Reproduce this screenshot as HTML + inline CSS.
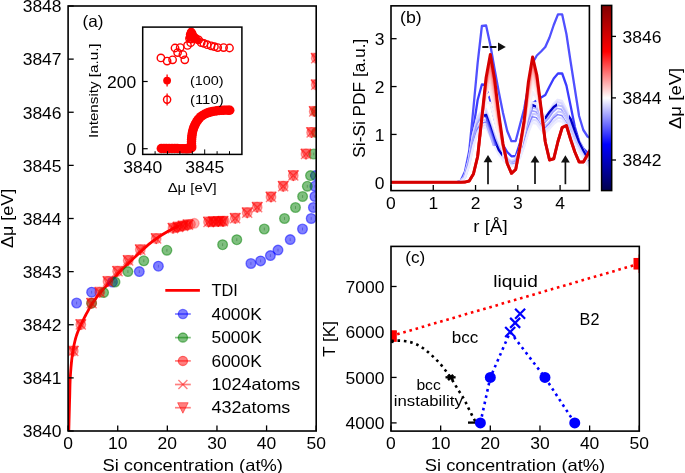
<!DOCTYPE html>
<html><head><meta charset="utf-8"><style>html,body{margin:0;padding:0;background:#fff;}svg{will-change:transform;}svg text{font-family:'Liberation Sans',sans-serif}</style></head><body>
<svg width="685" height="473" viewBox="0 0 685 473" style="display:block;font-family:'Liberation Sans',sans-serif">
<rect width="685" height="473" fill="#fff"/>
<defs><clipPath id="ca"><rect x="68.1" y="6" width="248.1" height="425"/></clipPath><clipPath id="cb"><rect x="391" y="5.85" width="198.4" height="184.75"/></clipPath><clipPath id="cvis"><rect x="484" y="0" width="18" height="200"/><rect x="532.5" y="0" width="3.5" height="200"/><rect x="545" y="0" width="12" height="200"/><rect x="569" y="0" width="22" height="200"/></clipPath><clipPath id="cflank"><path d="M486,100 L500,100 L500,146 L486,146 Z"/></clipPath><clipPath id="cc"><rect x="391" y="246.4" width="248.3" height="184.7"/></clipPath><linearGradient id="seis" x1="0" y1="1" x2="0" y2="0"><stop offset="0" stop-color="#00004d"/><stop offset="0.25" stop-color="#0000ff"/><stop offset="0.5" stop-color="#ffffff"/><stop offset="0.75" stop-color="#ff0000"/><stop offset="1" stop-color="#800000"/></linearGradient></defs>
<g clip-path="url(#ca)">
<polyline points="68.8,431 68.84,429.28 68.9,426.93 68.97,424.12 69.04,421.07 69.12,417.97 69.2,415 69.28,412.12 69.36,409.15 69.44,406.12 69.53,403.07 69.62,400.02 69.7,397 69.78,393.98 69.84,390.93 69.91,387.88 69.98,384.85 70.08,381.88 70.2,379 70.36,376.16 70.54,373.33 70.74,370.56 70.96,367.89 71.18,365.35 71.4,363 71.62,360.86 71.84,358.91 72.06,357.09 72.3,355.37 72.54,353.69 72.8,352 73.07,350.32 73.35,348.69 73.64,347.09 73.94,345.54 74.26,344.01 74.6,342.5 74.95,341.03 75.3,339.61 75.67,338.22 76.07,336.83 76.51,335.43 77,334 77.54,332.53 78.13,331.06 78.76,329.56 79.41,328.06 80.1,326.53 80.8,325 81.52,323.46 82.25,321.93 83.01,320.38 83.8,318.8 84.63,317.18 85.5,315.5 86.45,313.71 87.47,311.8 88.54,309.84 89.6,307.93 90.64,306.12 91.6,304.5 92.48,303.1 93.31,301.85 94.11,300.72 94.89,299.65 95.68,298.59 96.5,297.5 97.29,296.44 98.03,295.46 98.77,294.49 99.59,293.47 100.54,292.33 101.7,291 103.13,289.42 104.78,287.63 106.58,285.72 108.42,283.78 110.22,281.88 111.9,280.1 113.44,278.46 114.92,276.87 116.36,275.34 117.78,273.83 119.22,272.32 120.7,270.8 122.21,269.28 123.74,267.76 125.27,266.26 126.83,264.75 128.4,263.23 130,261.7 131.63,260.15 133.28,258.57 134.96,256.99 136.64,255.41 138.33,253.85 140,252.3 141.67,250.75 143.33,249.2 145,247.66 146.67,246.14 148.33,244.69 150,243.3 151.67,241.99 153.33,240.75 155,239.56 156.67,238.41 158.33,237.3 160,236.2 161.69,235.11 163.41,234.04 165.12,233.01 166.81,232.01 168.45,231.07 170,230.2 171.54,229.37 173.11,228.57 174.62,227.82 176,227.16 177.15,226.61 178,226.2" fill="none" stroke="#ff0000" stroke-width="2.8" stroke-linejoin="round" stroke-linecap="round"/>
<circle cx="76.6" cy="303" r="4.85" fill="#0000ff" fill-opacity="0.5" stroke="#0000ff" stroke-opacity="0.5" stroke-width="1.3"/>
<line x1="76.6" y1="301.6" x2="76.6" y2="304.4" stroke="#0000aa" stroke-opacity="0.35" stroke-width="0.9"/>
<circle cx="91.6" cy="292.2" r="4.85" fill="#0000ff" fill-opacity="0.5" stroke="#0000ff" stroke-opacity="0.5" stroke-width="1.3"/>
<line x1="91.6" y1="290.8" x2="91.6" y2="293.6" stroke="#0000aa" stroke-opacity="0.35" stroke-width="0.9"/>
<circle cx="112.5" cy="282" r="4.85" fill="#0000ff" fill-opacity="0.5" stroke="#0000ff" stroke-opacity="0.5" stroke-width="1.3"/>
<line x1="112.5" y1="280.6" x2="112.5" y2="283.4" stroke="#0000aa" stroke-opacity="0.35" stroke-width="0.9"/>
<circle cx="139.3" cy="271.6" r="4.85" fill="#0000ff" fill-opacity="0.5" stroke="#0000ff" stroke-opacity="0.5" stroke-width="1.3"/>
<line x1="139.3" y1="270.2" x2="139.3" y2="273" stroke="#0000aa" stroke-opacity="0.35" stroke-width="0.9"/>
<circle cx="158.4" cy="266.2" r="4.85" fill="#0000ff" fill-opacity="0.5" stroke="#0000ff" stroke-opacity="0.5" stroke-width="1.3"/>
<line x1="158.4" y1="264.8" x2="158.4" y2="267.6" stroke="#0000aa" stroke-opacity="0.35" stroke-width="0.9"/>
<circle cx="250.9" cy="263.5" r="4.85" fill="#0000ff" fill-opacity="0.5" stroke="#0000ff" stroke-opacity="0.5" stroke-width="1.3"/>
<line x1="250.9" y1="262.1" x2="250.9" y2="264.9" stroke="#0000aa" stroke-opacity="0.35" stroke-width="0.9"/>
<circle cx="260.6" cy="260.9" r="4.85" fill="#0000ff" fill-opacity="0.5" stroke="#0000ff" stroke-opacity="0.5" stroke-width="1.3"/>
<line x1="260.6" y1="259.5" x2="260.6" y2="262.3" stroke="#0000aa" stroke-opacity="0.35" stroke-width="0.9"/>
<circle cx="270.4" cy="255.6" r="4.85" fill="#0000ff" fill-opacity="0.5" stroke="#0000ff" stroke-opacity="0.5" stroke-width="1.3"/>
<line x1="270.4" y1="254.2" x2="270.4" y2="257" stroke="#0000aa" stroke-opacity="0.35" stroke-width="0.9"/>
<circle cx="278" cy="250.1" r="4.85" fill="#0000ff" fill-opacity="0.5" stroke="#0000ff" stroke-opacity="0.5" stroke-width="1.3"/>
<line x1="278" y1="248.7" x2="278" y2="251.5" stroke="#0000aa" stroke-opacity="0.35" stroke-width="0.9"/>
<circle cx="290.2" cy="239.6" r="4.85" fill="#0000ff" fill-opacity="0.5" stroke="#0000ff" stroke-opacity="0.5" stroke-width="1.3"/>
<line x1="290.2" y1="238.2" x2="290.2" y2="241" stroke="#0000aa" stroke-opacity="0.35" stroke-width="0.9"/>
<circle cx="302.5" cy="229" r="4.85" fill="#0000ff" fill-opacity="0.5" stroke="#0000ff" stroke-opacity="0.5" stroke-width="1.3"/>
<line x1="302.5" y1="227.6" x2="302.5" y2="230.4" stroke="#0000aa" stroke-opacity="0.35" stroke-width="0.9"/>
<circle cx="311.2" cy="218.5" r="4.85" fill="#0000ff" fill-opacity="0.5" stroke="#0000ff" stroke-opacity="0.5" stroke-width="1.3"/>
<line x1="311.2" y1="217.1" x2="311.2" y2="219.9" stroke="#0000aa" stroke-opacity="0.35" stroke-width="0.9"/>
<circle cx="313.4" cy="207.5" r="4.85" fill="#0000ff" fill-opacity="0.5" stroke="#0000ff" stroke-opacity="0.5" stroke-width="1.3"/>
<line x1="313.4" y1="206.1" x2="313.4" y2="208.9" stroke="#0000aa" stroke-opacity="0.35" stroke-width="0.9"/>
<circle cx="314.9" cy="196.5" r="4.85" fill="#0000ff" fill-opacity="0.5" stroke="#0000ff" stroke-opacity="0.5" stroke-width="1.3"/>
<line x1="314.9" y1="195.1" x2="314.9" y2="197.9" stroke="#0000aa" stroke-opacity="0.35" stroke-width="0.9"/>
<circle cx="314.9" cy="186.3" r="4.85" fill="#0000ff" fill-opacity="0.5" stroke="#0000ff" stroke-opacity="0.5" stroke-width="1.3"/>
<line x1="314.9" y1="184.9" x2="314.9" y2="187.7" stroke="#0000aa" stroke-opacity="0.35" stroke-width="0.9"/>
<circle cx="315.5" cy="175.6" r="4.85" fill="#0000ff" fill-opacity="0.5" stroke="#0000ff" stroke-opacity="0.5" stroke-width="1.3"/>
<line x1="315.5" y1="174.2" x2="315.5" y2="177" stroke="#0000aa" stroke-opacity="0.35" stroke-width="0.9"/>
<circle cx="91.6" cy="303.2" r="4.85" fill="#008000" fill-opacity="0.5" stroke="#008000" stroke-opacity="0.5" stroke-width="1.3"/>
<line x1="91.6" y1="301.8" x2="91.6" y2="304.6" stroke="#004000" stroke-opacity="0.35" stroke-width="0.9"/>
<circle cx="103.6" cy="292.6" r="4.85" fill="#008000" fill-opacity="0.5" stroke="#008000" stroke-opacity="0.5" stroke-width="1.3"/>
<line x1="103.6" y1="291.2" x2="103.6" y2="294" stroke="#004000" stroke-opacity="0.35" stroke-width="0.9"/>
<circle cx="115" cy="282" r="4.85" fill="#008000" fill-opacity="0.5" stroke="#008000" stroke-opacity="0.5" stroke-width="1.3"/>
<line x1="115" y1="280.6" x2="115" y2="283.4" stroke="#004000" stroke-opacity="0.35" stroke-width="0.9"/>
<circle cx="127.9" cy="271.6" r="4.85" fill="#008000" fill-opacity="0.5" stroke="#008000" stroke-opacity="0.5" stroke-width="1.3"/>
<line x1="127.9" y1="270.2" x2="127.9" y2="273" stroke="#004000" stroke-opacity="0.35" stroke-width="0.9"/>
<circle cx="143.8" cy="260.8" r="4.85" fill="#008000" fill-opacity="0.5" stroke="#008000" stroke-opacity="0.5" stroke-width="1.3"/>
<line x1="143.8" y1="259.4" x2="143.8" y2="262.2" stroke="#004000" stroke-opacity="0.35" stroke-width="0.9"/>
<circle cx="166.9" cy="250.3" r="4.85" fill="#008000" fill-opacity="0.5" stroke="#008000" stroke-opacity="0.5" stroke-width="1.3"/>
<line x1="166.9" y1="248.9" x2="166.9" y2="251.7" stroke="#004000" stroke-opacity="0.35" stroke-width="0.9"/>
<circle cx="222.6" cy="244.7" r="4.85" fill="#008000" fill-opacity="0.5" stroke="#008000" stroke-opacity="0.5" stroke-width="1.3"/>
<line x1="222.6" y1="243.3" x2="222.6" y2="246.1" stroke="#004000" stroke-opacity="0.35" stroke-width="0.9"/>
<circle cx="236.8" cy="239.7" r="4.85" fill="#008000" fill-opacity="0.5" stroke="#008000" stroke-opacity="0.5" stroke-width="1.3"/>
<line x1="236.8" y1="238.3" x2="236.8" y2="241.1" stroke="#004000" stroke-opacity="0.35" stroke-width="0.9"/>
<circle cx="264.3" cy="229" r="4.85" fill="#008000" fill-opacity="0.5" stroke="#008000" stroke-opacity="0.5" stroke-width="1.3"/>
<line x1="264.3" y1="227.6" x2="264.3" y2="230.4" stroke="#004000" stroke-opacity="0.35" stroke-width="0.9"/>
<circle cx="284.5" cy="218.5" r="4.85" fill="#008000" fill-opacity="0.5" stroke="#008000" stroke-opacity="0.5" stroke-width="1.3"/>
<line x1="284.5" y1="217.1" x2="284.5" y2="219.9" stroke="#004000" stroke-opacity="0.35" stroke-width="0.9"/>
<circle cx="295.5" cy="207.5" r="4.85" fill="#008000" fill-opacity="0.5" stroke="#008000" stroke-opacity="0.5" stroke-width="1.3"/>
<line x1="295.5" y1="206.1" x2="295.5" y2="208.9" stroke="#004000" stroke-opacity="0.35" stroke-width="0.9"/>
<circle cx="302.6" cy="196.5" r="4.85" fill="#008000" fill-opacity="0.5" stroke="#008000" stroke-opacity="0.5" stroke-width="1.3"/>
<line x1="302.6" y1="195.1" x2="302.6" y2="197.9" stroke="#004000" stroke-opacity="0.35" stroke-width="0.9"/>
<circle cx="307.3" cy="186.3" r="4.85" fill="#008000" fill-opacity="0.5" stroke="#008000" stroke-opacity="0.5" stroke-width="1.3"/>
<line x1="307.3" y1="184.9" x2="307.3" y2="187.7" stroke="#004000" stroke-opacity="0.35" stroke-width="0.9"/>
<circle cx="310.5" cy="175.6" r="4.85" fill="#008000" fill-opacity="0.5" stroke="#008000" stroke-opacity="0.5" stroke-width="1.3"/>
<line x1="310.5" y1="174.2" x2="310.5" y2="177" stroke="#004000" stroke-opacity="0.35" stroke-width="0.9"/>
<circle cx="313.7" cy="154" r="4.85" fill="#008000" fill-opacity="0.5" stroke="#008000" stroke-opacity="0.5" stroke-width="1.3"/>
<line x1="313.7" y1="152.6" x2="313.7" y2="155.4" stroke="#004000" stroke-opacity="0.35" stroke-width="0.9"/>
<circle cx="316.5" cy="132.5" r="4.85" fill="#008000" fill-opacity="0.5" stroke="#008000" stroke-opacity="0.5" stroke-width="1.3"/>
<line x1="316.5" y1="131.1" x2="316.5" y2="133.9" stroke="#004000" stroke-opacity="0.35" stroke-width="0.9"/>
<circle cx="316.5" cy="111.4" r="4.85" fill="#008000" fill-opacity="0.5" stroke="#008000" stroke-opacity="0.5" stroke-width="1.3"/>
<line x1="316.5" y1="110" x2="316.5" y2="112.8" stroke="#004000" stroke-opacity="0.35" stroke-width="0.9"/>
<path d="M68.05,346.11 L78.55,346.11 L73.3,356.61 Z" fill="#ff0000" fill-opacity="0.4" stroke="#ff0000" stroke-opacity="0.4" stroke-width="1"/>
<circle cx="73.3" cy="351.1" r="4.8" fill="#ff0000" fill-opacity="0.35" stroke="#ff0000" stroke-opacity="0.35" stroke-width="1.3"/>
<path d="M68.3,346.1 L78.3,356.1 M68.3,356.1 L78.3,346.1" stroke="#ff0000" stroke-opacity="0.5" stroke-width="1.4"/>
<path d="M75.55,319.61 L86.05,319.61 L80.8,330.11 Z" fill="#ff0000" fill-opacity="0.4" stroke="#ff0000" stroke-opacity="0.4" stroke-width="1"/>
<circle cx="80.8" cy="324.6" r="4.8" fill="#ff0000" fill-opacity="0.35" stroke="#ff0000" stroke-opacity="0.35" stroke-width="1.3"/>
<path d="M75.8,319.6 L85.8,329.6 M75.8,329.6 L85.8,319.6" stroke="#ff0000" stroke-opacity="0.5" stroke-width="1.4"/>
<path d="M86.35,298.21 L96.85,298.21 L91.6,308.71 Z" fill="#ff0000" fill-opacity="0.4" stroke="#ff0000" stroke-opacity="0.4" stroke-width="1"/>
<circle cx="91.6" cy="303.2" r="4.8" fill="#ff0000" fill-opacity="0.35" stroke="#ff0000" stroke-opacity="0.35" stroke-width="1.3"/>
<path d="M86.6,298.2 L96.6,308.2 M86.6,308.2 L96.6,298.2" stroke="#ff0000" stroke-opacity="0.5" stroke-width="1.4"/>
<path d="M94.55,287.21 L105.05,287.21 L99.8,297.71 Z" fill="#ff0000" fill-opacity="0.4" stroke="#ff0000" stroke-opacity="0.4" stroke-width="1"/>
<circle cx="99.8" cy="292.2" r="4.8" fill="#ff0000" fill-opacity="0.35" stroke="#ff0000" stroke-opacity="0.35" stroke-width="1.3"/>
<path d="M94.8,287.2 L104.8,297.2 M94.8,297.2 L104.8,287.2" stroke="#ff0000" stroke-opacity="0.5" stroke-width="1.4"/>
<path d="M102.75,276.41 L113.25,276.41 L108,286.91 Z" fill="#ff0000" fill-opacity="0.4" stroke="#ff0000" stroke-opacity="0.4" stroke-width="1"/>
<circle cx="108" cy="281.4" r="4.8" fill="#ff0000" fill-opacity="0.35" stroke="#ff0000" stroke-opacity="0.35" stroke-width="1.3"/>
<path d="M103,276.4 L113,286.4 M103,286.4 L113,276.4" stroke="#ff0000" stroke-opacity="0.5" stroke-width="1.4"/>
<path d="M112.35,266.31 L122.85,266.31 L117.6,276.81 Z" fill="#ff0000" fill-opacity="0.4" stroke="#ff0000" stroke-opacity="0.4" stroke-width="1"/>
<circle cx="117.6" cy="271.3" r="4.8" fill="#ff0000" fill-opacity="0.35" stroke="#ff0000" stroke-opacity="0.35" stroke-width="1.3"/>
<path d="M112.6,266.3 L122.6,276.3 M112.6,276.3 L122.6,266.3" stroke="#ff0000" stroke-opacity="0.5" stroke-width="1.4"/>
<path d="M122.95,255.41 L133.45,255.41 L128.2,265.91 Z" fill="#ff0000" fill-opacity="0.4" stroke="#ff0000" stroke-opacity="0.4" stroke-width="1"/>
<circle cx="128.2" cy="260.4" r="4.8" fill="#ff0000" fill-opacity="0.35" stroke="#ff0000" stroke-opacity="0.35" stroke-width="1.3"/>
<path d="M123.2,255.4 L133.2,265.4 M123.2,265.4 L133.2,255.4" stroke="#ff0000" stroke-opacity="0.5" stroke-width="1.4"/>
<path d="M135.05,244.71 L145.55,244.71 L140.3,255.21 Z" fill="#ff0000" fill-opacity="0.4" stroke="#ff0000" stroke-opacity="0.4" stroke-width="1"/>
<circle cx="140.3" cy="249.7" r="4.8" fill="#ff0000" fill-opacity="0.35" stroke="#ff0000" stroke-opacity="0.35" stroke-width="1.3"/>
<path d="M135.3,244.7 L145.3,254.7 M135.3,254.7 L145.3,244.7" stroke="#ff0000" stroke-opacity="0.5" stroke-width="1.4"/>
<path d="M150.95,233.61 L161.45,233.61 L156.2,244.11 Z" fill="#ff0000" fill-opacity="0.4" stroke="#ff0000" stroke-opacity="0.4" stroke-width="1"/>
<circle cx="156.2" cy="238.6" r="4.8" fill="#ff0000" fill-opacity="0.35" stroke="#ff0000" stroke-opacity="0.35" stroke-width="1.3"/>
<path d="M151.2,233.6 L161.2,243.6 M151.2,243.6 L161.2,233.6" stroke="#ff0000" stroke-opacity="0.5" stroke-width="1.4"/>
<path d="M167.75,223.21 L178.25,223.21 L173,233.71 Z" fill="#ff0000" fill-opacity="0.4" stroke="#ff0000" stroke-opacity="0.4" stroke-width="1"/>
<circle cx="173" cy="228.2" r="4.8" fill="#ff0000" fill-opacity="0.35" stroke="#ff0000" stroke-opacity="0.35" stroke-width="1.3"/>
<path d="M168,223.2 L178,233.2 M168,233.2 L178,223.2" stroke="#ff0000" stroke-opacity="0.5" stroke-width="1.4"/>
<path d="M172.75,222.01 L183.25,222.01 L178,232.51 Z" fill="#ff0000" fill-opacity="0.4" stroke="#ff0000" stroke-opacity="0.4" stroke-width="1"/>
<circle cx="178" cy="227" r="4.8" fill="#ff0000" fill-opacity="0.35" stroke="#ff0000" stroke-opacity="0.35" stroke-width="1.3"/>
<path d="M173,222 L183,232 M173,232 L183,222" stroke="#ff0000" stroke-opacity="0.5" stroke-width="1.4"/>
<path d="M177.75,220.91 L188.25,220.91 L183,231.41 Z" fill="#ff0000" fill-opacity="0.4" stroke="#ff0000" stroke-opacity="0.4" stroke-width="1"/>
<circle cx="183" cy="225.9" r="4.8" fill="#ff0000" fill-opacity="0.35" stroke="#ff0000" stroke-opacity="0.35" stroke-width="1.3"/>
<path d="M178,220.9 L188,230.9 M178,230.9 L188,220.9" stroke="#ff0000" stroke-opacity="0.5" stroke-width="1.4"/>
<path d="M182.75,219.81 L193.25,219.81 L188,230.31 Z" fill="#ff0000" fill-opacity="0.4" stroke="#ff0000" stroke-opacity="0.4" stroke-width="1"/>
<circle cx="188" cy="224.8" r="4.8" fill="#ff0000" fill-opacity="0.35" stroke="#ff0000" stroke-opacity="0.35" stroke-width="1.3"/>
<path d="M183,219.8 L193,229.8 M183,229.8 L193,219.8" stroke="#ff0000" stroke-opacity="0.5" stroke-width="1.4"/>
<path d="M203.25,216.91 L213.75,216.91 L208.5,227.41 Z" fill="#ff0000" fill-opacity="0.4" stroke="#ff0000" stroke-opacity="0.4" stroke-width="1"/>
<circle cx="208.5" cy="221.9" r="4.8" fill="#ff0000" fill-opacity="0.35" stroke="#ff0000" stroke-opacity="0.35" stroke-width="1.3"/>
<path d="M203.5,216.9 L213.5,226.9 M203.5,226.9 L213.5,216.9" stroke="#ff0000" stroke-opacity="0.5" stroke-width="1.4"/>
<path d="M208.25,216.71 L218.75,216.71 L213.5,227.21 Z" fill="#ff0000" fill-opacity="0.4" stroke="#ff0000" stroke-opacity="0.4" stroke-width="1"/>
<circle cx="213.5" cy="221.7" r="4.8" fill="#ff0000" fill-opacity="0.35" stroke="#ff0000" stroke-opacity="0.35" stroke-width="1.3"/>
<path d="M208.5,216.7 L218.5,226.7 M208.5,226.7 L218.5,216.7" stroke="#ff0000" stroke-opacity="0.5" stroke-width="1.4"/>
<path d="M213.25,216.51 L223.75,216.51 L218.5,227.01 Z" fill="#ff0000" fill-opacity="0.4" stroke="#ff0000" stroke-opacity="0.4" stroke-width="1"/>
<circle cx="218.5" cy="221.5" r="4.8" fill="#ff0000" fill-opacity="0.35" stroke="#ff0000" stroke-opacity="0.35" stroke-width="1.3"/>
<path d="M213.5,216.5 L223.5,226.5 M213.5,226.5 L223.5,216.5" stroke="#ff0000" stroke-opacity="0.5" stroke-width="1.4"/>
<path d="M217.75,216.31 L228.25,216.31 L223,226.81 Z" fill="#ff0000" fill-opacity="0.4" stroke="#ff0000" stroke-opacity="0.4" stroke-width="1"/>
<circle cx="223" cy="221.3" r="4.8" fill="#ff0000" fill-opacity="0.35" stroke="#ff0000" stroke-opacity="0.35" stroke-width="1.3"/>
<path d="M218,216.3 L228,226.3 M218,226.3 L228,216.3" stroke="#ff0000" stroke-opacity="0.5" stroke-width="1.4"/>
<path d="M229.95,213.31 L240.45,213.31 L235.2,223.81 Z" fill="#ff0000" fill-opacity="0.4" stroke="#ff0000" stroke-opacity="0.4" stroke-width="1"/>
<circle cx="235.2" cy="218.3" r="4.8" fill="#ff0000" fill-opacity="0.35" stroke="#ff0000" stroke-opacity="0.35" stroke-width="1.3"/>
<path d="M230.2,213.3 L240.2,223.3 M230.2,223.3 L240.2,213.3" stroke="#ff0000" stroke-opacity="0.5" stroke-width="1.4"/>
<path d="M241.95,207.71 L252.45,207.71 L247.2,218.21 Z" fill="#ff0000" fill-opacity="0.4" stroke="#ff0000" stroke-opacity="0.4" stroke-width="1"/>
<circle cx="247.2" cy="212.7" r="4.8" fill="#ff0000" fill-opacity="0.35" stroke="#ff0000" stroke-opacity="0.35" stroke-width="1.3"/>
<path d="M242.2,207.7 L252.2,217.7 M242.2,217.7 L252.2,207.7" stroke="#ff0000" stroke-opacity="0.5" stroke-width="1.4"/>
<path d="M251.95,202.21 L262.45,202.21 L257.2,212.71 Z" fill="#ff0000" fill-opacity="0.4" stroke="#ff0000" stroke-opacity="0.4" stroke-width="1"/>
<circle cx="257.2" cy="207.2" r="4.8" fill="#ff0000" fill-opacity="0.35" stroke="#ff0000" stroke-opacity="0.35" stroke-width="1.3"/>
<path d="M252.2,202.2 L262.2,212.2 M252.2,212.2 L262.2,202.2" stroke="#ff0000" stroke-opacity="0.5" stroke-width="1.4"/>
<path d="M265.75,191.91 L276.25,191.91 L271,202.41 Z" fill="#ff0000" fill-opacity="0.4" stroke="#ff0000" stroke-opacity="0.4" stroke-width="1"/>
<circle cx="271" cy="196.9" r="4.8" fill="#ff0000" fill-opacity="0.35" stroke="#ff0000" stroke-opacity="0.35" stroke-width="1.3"/>
<path d="M266,191.9 L276,201.9 M266,201.9 L276,191.9" stroke="#ff0000" stroke-opacity="0.5" stroke-width="1.4"/>
<path d="M277.95,181.31 L288.45,181.31 L283.2,191.81 Z" fill="#ff0000" fill-opacity="0.4" stroke="#ff0000" stroke-opacity="0.4" stroke-width="1"/>
<circle cx="283.2" cy="186.3" r="4.8" fill="#ff0000" fill-opacity="0.35" stroke="#ff0000" stroke-opacity="0.35" stroke-width="1.3"/>
<path d="M278.2,181.3 L288.2,191.3 M278.2,191.3 L288.2,181.3" stroke="#ff0000" stroke-opacity="0.5" stroke-width="1.4"/>
<path d="M288.05,170.61 L298.55,170.61 L293.3,181.11 Z" fill="#ff0000" fill-opacity="0.4" stroke="#ff0000" stroke-opacity="0.4" stroke-width="1"/>
<circle cx="293.3" cy="175.6" r="4.8" fill="#ff0000" fill-opacity="0.35" stroke="#ff0000" stroke-opacity="0.35" stroke-width="1.3"/>
<path d="M288.3,170.6 L298.3,180.6 M288.3,180.6 L298.3,170.6" stroke="#ff0000" stroke-opacity="0.5" stroke-width="1.4"/>
<path d="M300.75,149.01 L311.25,149.01 L306,159.51 Z" fill="#ff0000" fill-opacity="0.4" stroke="#ff0000" stroke-opacity="0.4" stroke-width="1"/>
<circle cx="306" cy="154" r="4.8" fill="#ff0000" fill-opacity="0.35" stroke="#ff0000" stroke-opacity="0.35" stroke-width="1.3"/>
<path d="M301,149 L311,159 M301,159 L311,149" stroke="#ff0000" stroke-opacity="0.5" stroke-width="1.4"/>
<path d="M306.35,127.51 L316.85,127.51 L311.6,138.01 Z" fill="#ff0000" fill-opacity="0.4" stroke="#ff0000" stroke-opacity="0.4" stroke-width="1"/>
<circle cx="311.6" cy="132.5" r="4.8" fill="#ff0000" fill-opacity="0.35" stroke="#ff0000" stroke-opacity="0.35" stroke-width="1.3"/>
<path d="M306.6,127.5 L316.6,137.5 M306.6,137.5 L316.6,127.5" stroke="#ff0000" stroke-opacity="0.5" stroke-width="1.4"/>
<path d="M308.95,106.41 L319.45,106.41 L314.2,116.91 Z" fill="#ff0000" fill-opacity="0.4" stroke="#ff0000" stroke-opacity="0.4" stroke-width="1"/>
<circle cx="314.2" cy="111.4" r="4.8" fill="#ff0000" fill-opacity="0.35" stroke="#ff0000" stroke-opacity="0.35" stroke-width="1.3"/>
<path d="M309.2,106.4 L319.2,116.4 M309.2,116.4 L319.2,106.4" stroke="#ff0000" stroke-opacity="0.5" stroke-width="1.4"/>
<path d="M310.95,79.81 L321.45,79.81 L316.2,90.31 Z" fill="#ff0000" fill-opacity="0.4" stroke="#ff0000" stroke-opacity="0.4" stroke-width="1"/>
<circle cx="316.2" cy="84.8" r="4.8" fill="#ff0000" fill-opacity="0.35" stroke="#ff0000" stroke-opacity="0.35" stroke-width="1.3"/>
<path d="M311.2,79.8 L321.2,89.8 M311.2,89.8 L321.2,79.8" stroke="#ff0000" stroke-opacity="0.5" stroke-width="1.4"/>
<path d="M310.95,53.21 L321.45,53.21 L316.2,63.71 Z" fill="#ff0000" fill-opacity="0.4" stroke="#ff0000" stroke-opacity="0.4" stroke-width="1"/>
<circle cx="316.2" cy="58.2" r="4.8" fill="#ff0000" fill-opacity="0.35" stroke="#ff0000" stroke-opacity="0.35" stroke-width="1.3"/>
<path d="M311.2,53.2 L321.2,63.2 M311.2,63.2 L321.2,53.2" stroke="#ff0000" stroke-opacity="0.5" stroke-width="1.4"/>
<circle cx="176" cy="227.5" r="4.8" fill="#ff0000" fill-opacity="0.3" stroke="#ff0000" stroke-opacity="0.3" stroke-width="1.3"/>
<circle cx="181" cy="226.4" r="4.8" fill="#ff0000" fill-opacity="0.3" stroke="#ff0000" stroke-opacity="0.3" stroke-width="1.3"/>
<circle cx="186" cy="225.2" r="4.8" fill="#ff0000" fill-opacity="0.3" stroke="#ff0000" stroke-opacity="0.3" stroke-width="1.3"/>
<circle cx="190.5" cy="224.2" r="4.8" fill="#ff0000" fill-opacity="0.3" stroke="#ff0000" stroke-opacity="0.3" stroke-width="1.3"/>
<circle cx="194.3" cy="223.3" r="4.8" fill="#ff0000" fill-opacity="0.3" stroke="#ff0000" stroke-opacity="0.3" stroke-width="1.3"/>
<circle cx="211" cy="221.8" r="4.8" fill="#ff0000" fill-opacity="0.3" stroke="#ff0000" stroke-opacity="0.3" stroke-width="1.3"/>
<circle cx="216" cy="221.6" r="4.8" fill="#ff0000" fill-opacity="0.3" stroke="#ff0000" stroke-opacity="0.3" stroke-width="1.3"/>
<circle cx="221" cy="221.4" r="4.8" fill="#ff0000" fill-opacity="0.3" stroke="#ff0000" stroke-opacity="0.3" stroke-width="1.3"/>
<circle cx="224.5" cy="221.2" r="4.8" fill="#ff0000" fill-opacity="0.3" stroke="#ff0000" stroke-opacity="0.3" stroke-width="1.3"/>
</g>
<line x1="68.1" y1="431" x2="68.1" y2="425.4" stroke="#000" stroke-width="1.3"/>
<line x1="117.72" y1="431" x2="117.72" y2="425.4" stroke="#000" stroke-width="1.3"/>
<line x1="167.34" y1="431" x2="167.34" y2="425.4" stroke="#000" stroke-width="1.3"/>
<line x1="216.96" y1="431" x2="216.96" y2="425.4" stroke="#000" stroke-width="1.3"/>
<line x1="266.58" y1="431" x2="266.58" y2="425.4" stroke="#000" stroke-width="1.3"/>
<line x1="316.2" y1="431" x2="316.2" y2="425.4" stroke="#000" stroke-width="1.3"/>
<line x1="68.1" y1="431" x2="73.7" y2="431" stroke="#000" stroke-width="1.3"/>
<line x1="68.1" y1="377.88" x2="73.7" y2="377.88" stroke="#000" stroke-width="1.3"/>
<line x1="68.1" y1="324.75" x2="73.7" y2="324.75" stroke="#000" stroke-width="1.3"/>
<line x1="68.1" y1="271.62" x2="73.7" y2="271.62" stroke="#000" stroke-width="1.3"/>
<line x1="68.1" y1="218.5" x2="73.7" y2="218.5" stroke="#000" stroke-width="1.3"/>
<line x1="68.1" y1="165.38" x2="73.7" y2="165.38" stroke="#000" stroke-width="1.3"/>
<line x1="68.1" y1="112.25" x2="73.7" y2="112.25" stroke="#000" stroke-width="1.3"/>
<line x1="68.1" y1="59.12" x2="73.7" y2="59.12" stroke="#000" stroke-width="1.3"/>
<line x1="68.1" y1="6" x2="73.7" y2="6" stroke="#000" stroke-width="1.3"/>
<line x1="165.3" y1="290.4" x2="199.9" y2="290.4" stroke="#ff0000" stroke-width="2.8"/>
<line x1="175" y1="314" x2="190.8" y2="314" stroke="#0000ff" stroke-opacity="0.5" stroke-width="1.7"/>
<circle cx="182.9" cy="314" r="4.6" fill="#0000ff" fill-opacity="0.5" stroke="#0000ff" stroke-opacity="0.5" stroke-width="1.3"/>
<line x1="175" y1="337.6" x2="190.8" y2="337.6" stroke="#008000" stroke-opacity="0.5" stroke-width="1.7"/>
<circle cx="182.9" cy="337.6" r="4.6" fill="#008000" fill-opacity="0.5" stroke="#008000" stroke-opacity="0.5" stroke-width="1.3"/>
<line x1="175" y1="360.9" x2="190.8" y2="360.9" stroke="#ff0000" stroke-opacity="0.5" stroke-width="1.7"/>
<circle cx="182.9" cy="360.9" r="4.6" fill="#ff0000" fill-opacity="0.5" stroke="#ff0000" stroke-opacity="0.5" stroke-width="1.3"/>
<line x1="175" y1="384.5" x2="190.8" y2="384.5" stroke="#ff0000" stroke-opacity="0.5" stroke-width="1.7"/>
<path d="M178.4,380 L187.4,389 M178.4,389 L187.4,380" stroke="#ff0000" stroke-opacity="0.5" stroke-width="1.4"/>
<line x1="175" y1="407.7" x2="190.8" y2="407.7" stroke="#ff0000" stroke-opacity="0.5" stroke-width="1.7"/>
<path d="M177.65,402.71 L188.15,402.71 L182.9,413.21 Z" fill="#ff0000" fill-opacity="0.5" stroke="#ff0000" stroke-opacity="0.5" stroke-width="1"/>
<text x="211.5" y="296.1" font-size="16.5" text-anchor="start" fill="#000" textLength="26.31" lengthAdjust="spacingAndGlyphs">TDI</text>
<text x="211.5" y="319.7" font-size="16.5" text-anchor="start" fill="#000" textLength="50.25" lengthAdjust="spacingAndGlyphs">4000K</text>
<text x="211.5" y="343.3" font-size="16.5" text-anchor="start" fill="#000" textLength="50.25" lengthAdjust="spacingAndGlyphs">5000K</text>
<text x="211.5" y="366.6" font-size="16.5" text-anchor="start" fill="#000" textLength="50.25" lengthAdjust="spacingAndGlyphs">6000K</text>
<text x="211.5" y="390.2" font-size="16.5" text-anchor="start" fill="#000" textLength="88.81" lengthAdjust="spacingAndGlyphs">1024atoms</text>
<text x="211.5" y="413.4" font-size="16.5" text-anchor="start" fill="#000" textLength="78.82" lengthAdjust="spacingAndGlyphs">432atoms</text>
<rect x="68.1" y="6" width="248.1" height="425" fill="none" stroke="#000" stroke-width="1.6"/>
<text x="68.1" y="448.8" font-size="16.5" text-anchor="middle" fill="#000" textLength="9.73" lengthAdjust="spacingAndGlyphs">0</text>
<text x="117.72" y="448.8" font-size="16.5" text-anchor="middle" fill="#000" textLength="19.47" lengthAdjust="spacingAndGlyphs">10</text>
<text x="167.34" y="448.8" font-size="16.5" text-anchor="middle" fill="#000" textLength="19.47" lengthAdjust="spacingAndGlyphs">20</text>
<text x="216.96" y="448.8" font-size="16.5" text-anchor="middle" fill="#000" textLength="19.47" lengthAdjust="spacingAndGlyphs">30</text>
<text x="266.58" y="448.8" font-size="16.5" text-anchor="middle" fill="#000" textLength="19.47" lengthAdjust="spacingAndGlyphs">40</text>
<text x="316.2" y="448.8" font-size="16.5" text-anchor="middle" fill="#000" textLength="19.47" lengthAdjust="spacingAndGlyphs">50</text>
<text x="61.6" y="437.3" font-size="16.5" text-anchor="end" fill="#000" textLength="38.94" lengthAdjust="spacingAndGlyphs">3840</text>
<text x="61.6" y="384.18" font-size="16.5" text-anchor="end" fill="#000" textLength="38.94" lengthAdjust="spacingAndGlyphs">3841</text>
<text x="61.6" y="331.05" font-size="16.5" text-anchor="end" fill="#000" textLength="38.94" lengthAdjust="spacingAndGlyphs">3842</text>
<text x="61.6" y="277.93" font-size="16.5" text-anchor="end" fill="#000" textLength="38.94" lengthAdjust="spacingAndGlyphs">3843</text>
<text x="61.6" y="224.8" font-size="16.5" text-anchor="end" fill="#000" textLength="38.94" lengthAdjust="spacingAndGlyphs">3844</text>
<text x="61.6" y="171.68" font-size="16.5" text-anchor="end" fill="#000" textLength="38.94" lengthAdjust="spacingAndGlyphs">3845</text>
<text x="61.6" y="118.55" font-size="16.5" text-anchor="end" fill="#000" textLength="38.94" lengthAdjust="spacingAndGlyphs">3846</text>
<text x="61.6" y="65.42" font-size="16.5" text-anchor="end" fill="#000" textLength="38.94" lengthAdjust="spacingAndGlyphs">3847</text>
<text x="61.6" y="12.3" font-size="16.5" text-anchor="end" fill="#000" textLength="38.94" lengthAdjust="spacingAndGlyphs">3848</text>
<text x="192.7" y="471" font-size="16.5" text-anchor="middle" fill="#000" textLength="180.47" lengthAdjust="spacingAndGlyphs">Si concentration (at%)</text>
<text transform="translate(12.6,218.4) rotate(-90)" x="0" y="0" font-size="16.5" text-anchor="middle" textLength="59.11" lengthAdjust="spacingAndGlyphs">Δμ [eV]</text>
<text x="82.6" y="27.2" font-size="16.5" text-anchor="start" fill="#000" textLength="20.9" lengthAdjust="spacingAndGlyphs">(a)</text>
<rect x="142.7" y="27.1" width="99.2" height="127.3" fill="#fff" stroke="none"/>
<circle cx="161.3" cy="148.5" r="4.7" fill="#ff0000"/>
<circle cx="163.95" cy="148.5" r="4.7" fill="#ff0000"/>
<circle cx="166.39" cy="148.5" r="4.7" fill="#ff0000"/>
<circle cx="169.14" cy="148.5" r="4.7" fill="#ff0000"/>
<circle cx="171.99" cy="148.5" r="4.7" fill="#ff0000"/>
<circle cx="174.74" cy="148.5" r="4.7" fill="#ff0000"/>
<circle cx="177.26" cy="148.51" r="4.7" fill="#ff0000"/>
<circle cx="179.96" cy="148.61" r="4.7" fill="#ff0000"/>
<circle cx="182.74" cy="148.73" r="4.7" fill="#ff0000"/>
<circle cx="185.43" cy="148.82" r="4.7" fill="#ff0000"/>
<circle cx="187.84" cy="148.82" r="4.7" fill="#ff0000"/>
<circle cx="189.77" cy="148.66" r="4.7" fill="#ff0000"/>
<circle cx="191.7" cy="147.7" r="4.7" fill="#ff0000"/>
<circle cx="191.66" cy="145.7" r="4.7" fill="#ff0000"/>
<circle cx="191.44" cy="143.61" r="4.7" fill="#ff0000"/>
<circle cx="191.51" cy="141.62" r="4.7" fill="#ff0000"/>
<circle cx="191.56" cy="139.47" r="4.7" fill="#ff0000"/>
<circle cx="191.74" cy="137.46" r="4.7" fill="#ff0000"/>
<circle cx="191.98" cy="135.21" r="4.7" fill="#ff0000"/>
<circle cx="192.3" cy="133.01" r="4.7" fill="#ff0000"/>
<circle cx="192.72" cy="131.05" r="4.7" fill="#ff0000"/>
<circle cx="193.35" cy="128.8" r="4.7" fill="#ff0000"/>
<circle cx="194" cy="127" r="4.7" fill="#ff0000"/>
<circle cx="194.81" cy="125.13" r="4.7" fill="#ff0000"/>
<circle cx="195.76" cy="123.26" r="4.7" fill="#ff0000"/>
<circle cx="196.8" cy="121.5" r="4.7" fill="#ff0000"/>
<circle cx="197.94" cy="119.87" r="4.7" fill="#ff0000"/>
<circle cx="199.17" cy="118.35" r="4.7" fill="#ff0000"/>
<circle cx="200.84" cy="116.69" r="4.7" fill="#ff0000"/>
<circle cx="202.64" cy="115.34" r="4.7" fill="#ff0000"/>
<circle cx="204.59" cy="114.21" r="4.7" fill="#ff0000"/>
<circle cx="206.72" cy="113.23" r="4.7" fill="#ff0000"/>
<circle cx="208.56" cy="112.57" r="4.7" fill="#ff0000"/>
<circle cx="210.5" cy="112" r="4.7" fill="#ff0000"/>
<circle cx="212.59" cy="111.52" r="4.7" fill="#ff0000"/>
<circle cx="214.8" cy="111.13" r="4.7" fill="#ff0000"/>
<circle cx="217" cy="110.8" r="4.7" fill="#ff0000"/>
<circle cx="219.17" cy="110.53" r="4.7" fill="#ff0000"/>
<circle cx="221.35" cy="110.33" r="4.7" fill="#ff0000"/>
<circle cx="223.5" cy="110.2" r="4.7" fill="#ff0000"/>
<circle cx="225.85" cy="110.16" r="4.7" fill="#ff0000"/>
<circle cx="228.17" cy="110.18" r="4.7" fill="#ff0000"/>
<circle cx="229.8" cy="110.2" r="4.7" fill="#ff0000"/>
<circle cx="160.9" cy="57.9" r="3.7" fill="none" stroke="#ff0000" stroke-width="1.4"/>
<circle cx="167.1" cy="61.1" r="3.7" fill="none" stroke="#ff0000" stroke-width="1.4"/>
<circle cx="172.6" cy="59.8" r="3.7" fill="none" stroke="#ff0000" stroke-width="1.4"/>
<circle cx="175" cy="48" r="3.7" fill="none" stroke="#ff0000" stroke-width="1.4"/>
<circle cx="180.2" cy="47.6" r="3.7" fill="none" stroke="#ff0000" stroke-width="1.4"/>
<circle cx="177.6" cy="52.6" r="3.7" fill="none" stroke="#ff0000" stroke-width="1.4"/>
<circle cx="182.9" cy="54.6" r="3.7" fill="none" stroke="#ff0000" stroke-width="1.4"/>
<circle cx="184.8" cy="59.8" r="3.7" fill="none" stroke="#ff0000" stroke-width="1.4"/>
<circle cx="187.5" cy="45.4" r="3.7" fill="none" stroke="#ff0000" stroke-width="1.4"/>
<circle cx="190.7" cy="42.7" r="3.7" fill="none" stroke="#ff0000" stroke-width="1.4"/>
<circle cx="189.5" cy="38.5" r="3.7" fill="none" stroke="#ff0000" stroke-width="1.4"/>
<circle cx="190.2" cy="34.5" r="3.7" fill="none" stroke="#ff0000" stroke-width="1.4"/>
<circle cx="191.2" cy="32" r="3.7" fill="none" stroke="#ff0000" stroke-width="1.4"/>
<circle cx="192.2" cy="33.5" r="3.7" fill="none" stroke="#ff0000" stroke-width="1.4"/>
<circle cx="193" cy="36" r="3.7" fill="none" stroke="#ff0000" stroke-width="1.4"/>
<circle cx="191.5" cy="39" r="3.7" fill="none" stroke="#ff0000" stroke-width="1.4"/>
<circle cx="194.7" cy="37.5" r="3.7" fill="none" stroke="#ff0000" stroke-width="1.4"/>
<circle cx="196.5" cy="39" r="3.7" fill="none" stroke="#ff0000" stroke-width="1.4"/>
<circle cx="198.6" cy="39.8" r="3.7" fill="none" stroke="#ff0000" stroke-width="1.4"/>
<circle cx="201.2" cy="42.7" r="3.7" fill="none" stroke="#ff0000" stroke-width="1.4"/>
<circle cx="203.9" cy="43.4" r="3.7" fill="none" stroke="#ff0000" stroke-width="1.4"/>
<circle cx="207.2" cy="44.7" r="3.7" fill="none" stroke="#ff0000" stroke-width="1.4"/>
<circle cx="211.1" cy="45.8" r="3.7" fill="none" stroke="#ff0000" stroke-width="1.4"/>
<circle cx="214.4" cy="46.7" r="3.7" fill="none" stroke="#ff0000" stroke-width="1.4"/>
<circle cx="217.7" cy="47.6" r="3.7" fill="none" stroke="#ff0000" stroke-width="1.4"/>
<circle cx="223.6" cy="47.6" r="3.7" fill="none" stroke="#ff0000" stroke-width="1.4"/>
<circle cx="229.5" cy="48" r="3.7" fill="none" stroke="#ff0000" stroke-width="1.4"/>
<circle cx="191.2" cy="33.2" r="4.6" fill="#ff0000"/>
<circle cx="190" cy="37" r="4.3" fill="#ff0000"/>
<circle cx="193.8" cy="38.4" r="4" fill="#ff0000"/>
<circle cx="197.5" cy="40.3" r="3.4" fill="#ff0000"/>
<circle cx="167.1" cy="80.6" r="3.9" fill="#ff0000"/>
<line x1="167.1" y1="74.6" x2="167.1" y2="86.6" stroke="#ff0000" stroke-width="1.3"/>
<circle cx="167.1" cy="99.6" r="3.6" fill="none" stroke="#ff0000" stroke-width="1.4"/>
<line x1="167.1" y1="93.6" x2="167.1" y2="105.6" stroke="#ff0000" stroke-width="1.3"/>
<text x="190" y="85.3" font-size="13.3" text-anchor="start" fill="#000" textLength="33.61" lengthAdjust="spacingAndGlyphs">(100)</text>
<text x="190" y="104.2" font-size="13.3" text-anchor="start" fill="#000" textLength="33.61" lengthAdjust="spacingAndGlyphs">(110)</text>
<rect x="142.7" y="27.1" width="99.2" height="127.3" fill="none" stroke="#000" stroke-width="1.5"/>
<line x1="155.1" y1="154.4" x2="155.1" y2="151.2" stroke="#000" stroke-width="1"/>
<line x1="167.5" y1="154.4" x2="167.5" y2="151.2" stroke="#000" stroke-width="1"/>
<line x1="179.9" y1="154.4" x2="179.9" y2="151.2" stroke="#000" stroke-width="1"/>
<line x1="192.3" y1="154.4" x2="192.3" y2="151.2" stroke="#000" stroke-width="1"/>
<line x1="204.7" y1="154.4" x2="204.7" y2="149.4" stroke="#000" stroke-width="1"/>
<line x1="217.1" y1="154.4" x2="217.1" y2="151.2" stroke="#000" stroke-width="1"/>
<line x1="229.5" y1="154.4" x2="229.5" y2="151.2" stroke="#000" stroke-width="1"/>
<line x1="142.7" y1="148.7" x2="147.7" y2="148.7" stroke="#000" stroke-width="1.2"/>
<text x="136.3" y="155" font-size="16.5" text-anchor="end" fill="#000" textLength="9.73" lengthAdjust="spacingAndGlyphs">0</text>
<line x1="142.7" y1="81.5" x2="147.7" y2="81.5" stroke="#000" stroke-width="1.2"/>
<text x="136.3" y="87.8" font-size="16.5" text-anchor="end" fill="#000" textLength="29.2" lengthAdjust="spacingAndGlyphs">200</text>
<text x="142.7" y="172.6" font-size="16.5" text-anchor="middle" fill="#000" textLength="38.94" lengthAdjust="spacingAndGlyphs">3840</text>
<text x="204.7" y="172.6" font-size="16.5" text-anchor="middle" fill="#000" textLength="38.94" lengthAdjust="spacingAndGlyphs">3845</text>
<text x="192.2" y="192" font-size="13.4" text-anchor="middle" fill="#000" textLength="49.07" lengthAdjust="spacingAndGlyphs">Δμ [eV]</text>
<text transform="translate(97.6,90.7) rotate(-90)" x="0" y="0" font-size="13.4" text-anchor="middle" textLength="94.6" lengthAdjust="spacingAndGlyphs">Intensity [a.u.]</text>
<line x1="391" y1="190.6" x2="391" y2="185" stroke="#000" stroke-width="1.3"/>
<line x1="433.27" y1="190.6" x2="433.27" y2="185" stroke="#000" stroke-width="1.3"/>
<line x1="475.54" y1="190.6" x2="475.54" y2="185" stroke="#000" stroke-width="1.3"/>
<line x1="517.81" y1="190.6" x2="517.81" y2="185" stroke="#000" stroke-width="1.3"/>
<line x1="560.08" y1="190.6" x2="560.08" y2="185" stroke="#000" stroke-width="1.3"/>
<line x1="391" y1="182.3" x2="396.6" y2="182.3" stroke="#000" stroke-width="1.3"/>
<line x1="391" y1="134.43" x2="396.6" y2="134.43" stroke="#000" stroke-width="1.3"/>
<line x1="391" y1="86.56" x2="396.6" y2="86.56" stroke="#000" stroke-width="1.3"/>
<line x1="391" y1="38.69" x2="396.6" y2="38.69" stroke="#000" stroke-width="1.3"/>
<g clip-path="url(#cb)">
<polyline points="391,182.3 456.52,182.3 460.75,180.8 464.97,171.5 469.2,151 473.43,108 477.65,63 481.88,26 486.11,25.5 490.33,45 494.56,69 498.79,92 503.02,113 507.24,131 511.47,141.2 515.7,141 519.92,125 524.15,109 528.38,86 532.6,63 536.83,55.5 541.06,51.5 545.29,47 549.51,37.5 553.74,25 557.97,14.4 562.19,14.4 566.42,34 570.65,62 574.87,89 579.1,116 583.33,130 587.56,136.5 591.78,139" fill="none" stroke="#5050ff" stroke-width="2.3" stroke-linejoin="round"/>
<polyline points="391,182.3 456.52,182.3 460.75,181.2 464.97,174.5 469.2,157 473.43,128 477.65,100 481.88,84.5 486.11,85 490.33,101 494.56,119 498.79,134 503.02,145 507.24,152 511.47,156.3 515.7,156 519.92,143 524.15,124 528.38,110 532.6,103 536.83,100.5 541.06,97.5 545.29,95 549.51,86.5 553.74,78.5 557.97,73.5 562.19,73.5 566.42,85.5 570.65,106 574.87,127 579.1,141 583.33,148.5 587.56,152.5 591.78,155" fill="none" stroke="#3c3cff" stroke-width="2.3" stroke-linejoin="round"/>
<polyline points="391,182.3 456.22,182.3 460.45,181.56 464.67,176.15 468.9,159.72 473.13,134.28 477.35,117.32 481.58,110.43 485.81,108.84 490.03,120.5 494.26,133.22 498.49,144.35 502.72,152.3 506.94,157.6 511.17,160.78 515.4,159.19 519.62,150.18 523.85,135.34 528.08,116.26 532.3,102.48 536.53,103.54 540.76,112.02 544.99,116.26 549.21,110.96 553.44,104.07 557.67,99.83 561.89,100.89 566.12,108.84 570.35,119.44 574.57,131.1 578.8,140.64 583.03,149.12 587.26,158.66 591.48,163.96" fill="none" stroke="#e6e6ff" stroke-width="2.4" stroke-linejoin="round"/>
<polyline points="391,182.3 455.92,182.3 460.15,181.58 464.37,176.33 468.6,160.36 472.83,135.64 477.05,119.16 481.28,112.47 485.51,110.92 489.73,122.25 493.96,134.61 498.19,145.43 502.42,153.15 506.64,158.3 510.87,161.39 515.1,159.85 519.32,151.09 523.55,136.67 527.78,118.13 532,104.74 536.23,105.77 540.46,114.01 544.69,118.13 548.91,112.98 553.14,106.29 557.37,102.17 561.59,103.2 565.82,110.92 570.05,121.22 574.27,132.55 578.5,141.82 582.73,150.06 586.96,159.33 591.18,164.48" fill="none" stroke="#d6d6ff" stroke-width="2.2" stroke-linejoin="round"/>
<polyline points="391,182.3 456.52,182.3 460.75,181.61 464.97,176.56 469.2,161.21 473.43,137.45 477.65,121.61 481.88,115.18 486.11,113.69 490.33,124.58 494.56,136.46 498.79,146.86 503.02,154.28 507.24,159.23 511.47,162.2 515.7,160.72 519.92,152.3 524.15,138.44 528.38,120.62 532.6,107.75 536.83,108.74 541.06,116.66 545.29,120.62 549.51,115.67 553.74,109.24 557.97,105.28 562.19,106.27 566.42,113.69 570.65,123.59 574.87,134.48 579.1,143.39 583.33,151.31 587.56,160.22 591.78,165.17" fill="none" stroke="#bcbcff" stroke-width="2" stroke-linejoin="round"/>
<polyline points="391,182.3 455.72,182.3 459.95,181.63 464.17,176.79 468.4,162.06 472.63,139.26 476.85,124.06 481.08,117.89 485.31,116.47 489.53,126.92 493.76,138.31 497.99,148.29 502.22,155.41 506.44,160.16 510.67,163.01 514.9,161.59 519.12,153.51 523.35,140.22 527.58,123.12 531.8,110.77 536.03,111.72 540.26,119.31 544.49,123.12 548.71,118.37 552.94,112.19 557.17,108.39 561.39,109.34 565.62,116.47 569.85,125.97 574.07,136.42 578.3,144.97 582.53,152.56 586.76,161.12 590.98,165.87" fill="none" stroke="#9c9cff" stroke-width="1.5" stroke-linejoin="round"/>
<polyline points="391,182.3 456.92,182.3 461.15,181.66 465.37,177.02 469.6,162.92 473.83,141.08 478.05,126.52 482.28,120.6 486.51,119.24 490.73,129.25 494.96,140.17 499.19,149.72 503.42,156.55 507.64,161.1 511.87,163.83 516.1,162.46 520.32,154.73 524.55,141.99 528.78,125.61 533,113.78 537.23,114.69 541.46,121.97 545.69,125.61 549.91,121.06 554.14,115.14 558.37,111.5 562.59,112.41 566.82,119.24 571.05,128.34 575.27,138.35 579.5,146.54 583.73,153.82 587.96,162.01 592.18,166.56" fill="none" stroke="#c8c8ff" stroke-width="2" stroke-linejoin="round"/>
<polyline points="391,182.3 456.12,182.3 460.35,181.69 464.57,177.25 468.8,163.77 473.03,142.89 477.25,128.97 481.48,123.31 485.71,122.01 489.93,131.58 494.16,142.02 498.39,151.15 502.62,157.68 506.84,162.03 511.07,164.64 515.3,163.33 519.52,155.94 523.75,143.76 527.98,128.1 532.2,116.79 536.43,117.66 540.66,124.62 544.89,128.1 549.11,123.75 553.34,118.09 557.57,114.61 561.79,115.48 566.02,122.01 570.25,130.71 574.47,140.28 578.7,148.11 582.93,155.07 587.16,162.9 591.38,167.25" fill="none" stroke="#8282ff" stroke-width="1.4" stroke-linejoin="round"/>
<polyline points="391,182.3 456.72,182.3 460.95,181.72 465.17,177.49 469.4,164.62 473.63,144.7 477.85,131.42 482.08,126.03 486.31,124.78 490.53,133.91 494.76,143.87 498.99,152.59 503.22,158.81 507.44,162.96 511.67,165.45 515.9,164.21 520.12,157.15 524.35,145.53 528.58,130.59 532.8,119.8 537.03,120.63 541.26,127.27 545.49,130.59 549.71,126.44 553.94,121.05 558.17,117.73 562.39,118.56 566.62,124.78 570.85,133.08 575.07,142.21 579.3,149.68 583.53,156.32 587.76,163.79 591.98,167.94" fill="none" stroke="#dcdcff" stroke-width="2.2" stroke-linejoin="round"/>
<polyline points="391,182.3 456.32,182.3 460.55,181.75 464.77,177.72 469,165.47 473.23,146.51 477.45,133.87 481.68,128.74 485.91,127.55 490.13,136.24 494.36,145.72 498.59,154.02 502.82,159.94 507.04,163.89 511.27,166.26 515.5,165.08 519.72,158.36 523.95,147.3 528.18,133.08 532.4,122.81 536.63,123.6 540.86,129.92 545.09,133.08 549.31,129.13 553.54,124 557.77,120.84 561.99,121.63 566.22,127.55 570.45,135.45 574.67,144.14 578.9,151.25 583.13,157.57 587.36,164.68 591.58,168.63" fill="none" stroke="#ececff" stroke-width="2.2" stroke-linejoin="round"/>
<g clip-path="url(#cvis)">
<polyline points="391,182.3 456.52,182.3 460.75,181.6 464.97,176.5 469.2,161 473.43,137 477.65,121 481.88,116 486.11,115 490.33,127 494.56,140 498.79,150 503.02,156 507.24,159 511.47,162 515.7,160.5 519.92,152 524.15,138 528.38,118 532.6,105 536.83,107 541.06,116 545.29,118 549.51,112 553.74,107 557.97,104 562.19,108 566.42,113 570.65,119 574.87,131 579.1,142 583.33,150.5 587.56,158 591.78,162" fill="none" stroke="#0000c8" stroke-width="2.3" stroke-linejoin="round"/>
</g>
<g clip-path="url(#cflank)">
<polyline points="391,184.5 456.52,184.5 460.75,183.8 464.97,178.7 469.2,163.2 473.43,139.2 477.65,123.2 481.88,118.2 486.11,117.2 490.33,129.2 494.56,142.2 498.79,152.2 503.02,158.2 507.24,161.2 511.47,164.2 515.7,162.7 519.92,154.2 524.15,140.2 528.38,120.2 532.6,107.2 536.83,109.2 541.06,118.2 545.29,120.2 549.51,114.2 553.74,109.2 557.97,106.2 562.19,110.2 566.42,115.2 570.65,121.2 574.87,133.2 579.1,144.2 583.33,152.7 587.56,160.2 591.78,164.2" fill="none" stroke="#3434f0" stroke-width="1.8" stroke-linejoin="round"/>
<polyline points="391,186.7 456.52,186.7 460.75,186 464.97,180.9 469.2,165.4 473.43,141.4 477.65,125.4 481.88,120.4 486.11,119.4 490.33,131.4 494.56,144.4 498.79,154.4 503.02,160.4 507.24,163.4 511.47,166.4 515.7,164.9 519.92,156.4 524.15,142.4 528.38,122.4 532.6,109.4 536.83,111.4 541.06,120.4 545.29,122.4 549.51,116.4 553.74,111.4 557.97,108.4 562.19,112.4 566.42,117.4 570.65,123.4 574.87,135.4 579.1,146.4 583.33,154.9 587.56,162.4 591.78,166.4" fill="none" stroke="#5a5aff" stroke-width="1.8" stroke-linejoin="round"/>
<polyline points="391,188.9 456.52,188.9 460.75,188.2 464.97,183.1 469.2,167.6 473.43,143.6 477.65,127.6 481.88,122.6 486.11,121.6 490.33,133.6 494.56,146.6 498.79,156.6 503.02,162.6 507.24,165.6 511.47,168.6 515.7,167.1 519.92,158.6 524.15,144.6 528.38,124.6 532.6,111.6 536.83,113.6 541.06,122.6 545.29,124.6 549.51,118.6 553.74,113.6 557.97,110.6 562.19,114.6 566.42,119.6 570.65,125.6 574.87,137.6 579.1,148.6 583.33,157.1 587.56,164.6 591.78,168.6" fill="none" stroke="#8484ff" stroke-width="1.8" stroke-linejoin="round"/>
<polyline points="391,191.1 456.52,191.1 460.75,190.4 464.97,185.3 469.2,169.8 473.43,145.8 477.65,129.8 481.88,124.8 486.11,123.8 490.33,135.8 494.56,148.8 498.79,158.8 503.02,164.8 507.24,167.8 511.47,170.8 515.7,169.3 519.92,160.8 524.15,146.8 528.38,126.8 532.6,113.8 536.83,115.8 541.06,124.8 545.29,126.8 549.51,120.8 553.74,115.8 557.97,112.8 562.19,116.8 566.42,121.8 570.65,127.8 574.87,139.8 579.1,150.8 583.33,159.3 587.56,166.8 591.78,170.8" fill="none" stroke="#b0b0ff" stroke-width="1.8" stroke-linejoin="round"/>
</g>
<polyline points="391,182.3 456.52,182.3 460.75,182.3 464.97,182.1 469.2,181 473.43,174 477.65,156.5 481.88,117.5 486.11,102.35 490.33,103.15 494.56,118.9 498.79,136.75 503.02,151 507.24,163.5 511.47,173.3 515.7,169.5 519.92,150.5 524.15,132.75 528.38,108.6 532.6,92 536.83,98.1 541.06,113.6 545.29,142 549.51,160 553.74,158.8 557.97,141.5 562.19,127.5 566.42,125.5 570.65,139.5 574.87,152 579.1,162 583.33,162 587.56,158.35 591.78,159.6" fill="none" stroke="#f6f2fa" stroke-width="2.6" stroke-linejoin="round"/>
<polyline points="391,182.3 456.52,182.3 460.75,182.3 464.97,182.1 469.2,181 473.43,174 477.65,156.5 481.88,117.5 486.11,97.03 490.33,92.72 494.56,110.35 498.79,131.88 503.02,149.5 507.24,163.5 511.47,173.3 515.7,169.5 519.92,149.75 524.15,130.12 528.38,102.9 532.6,84.5 536.83,93.15 541.06,112.4 545.29,142 549.51,160 553.74,158.8 557.97,141.5 562.19,127.5 566.42,125.5 570.65,139.5 574.87,152 579.1,162 583.33,162 587.56,157.53 591.78,156.9" fill="none" stroke="#fff2f2" stroke-width="2.6" stroke-linejoin="round"/>
<polyline points="391,182.3 456.52,182.3 460.75,182.3 464.97,182.1 469.2,181 473.43,174 477.65,156.5 481.88,117.5 486.11,93.47 490.33,85.78 494.56,104.65 498.79,128.62 503.02,148.5 507.24,163.5 511.47,173.3 515.7,169.5 519.92,149.25 524.15,128.38 528.38,99.1 532.6,79.5 536.83,89.85 541.06,111.6 545.29,142 549.51,160 553.74,158.8 557.97,141.5 562.19,127.5 566.42,125.5 570.65,139.5 574.87,152 579.1,162 583.33,162 587.56,156.97 591.78,155.1" fill="none" stroke="#ffe6e6" stroke-width="2.6" stroke-linejoin="round"/>
<polyline points="391,182.3 456.52,182.3 460.75,182.3 464.97,182.1 469.2,181 473.43,174 477.65,156.5 481.88,117.5 486.11,89.92 490.33,78.83 494.56,98.95 498.79,125.38 503.02,147.5 507.24,163.5 511.47,173.3 515.7,169.5 519.92,148.75 524.15,126.62 528.38,95.3 532.6,74.5 536.83,86.55 541.06,110.8 545.29,142 549.51,160 553.74,158.8 557.97,141.5 562.19,127.5 566.42,125.5 570.65,139.5 574.87,152 579.1,162 583.33,162 587.56,156.43 591.78,153.3" fill="none" stroke="#ffd2d2" stroke-width="2.6" stroke-linejoin="round"/>
<polyline points="391,182.3 456.52,182.3 460.75,182.3 464.97,182.1 469.2,181 473.43,174 477.65,156.5 481.88,117.5 486.11,86.38 490.33,71.88 494.56,93.25 498.79,122.12 503.02,146.5 507.24,163.5 511.47,173.3 515.7,169.5 519.92,148.25 524.15,124.88 528.38,91.5 532.6,69.5 536.83,83.25 541.06,110 545.29,142 549.51,160 553.74,158.8 557.97,141.5 562.19,127.5 566.42,125.5 570.65,139.5 574.87,152 579.1,162 583.33,162 587.56,155.88 591.78,151.5" fill="none" stroke="#ffb6b6" stroke-width="2.6" stroke-linejoin="round"/>
<polyline points="391,182.3 456.52,182.3 460.75,182.3 464.97,182.1 469.2,181 473.43,174 477.65,156.5 481.88,117.5 486.11,83.18 490.33,65.62 494.56,88.12 498.79,119.2 503.02,145.6 507.24,163.5 511.47,173.3 515.7,169.5 519.92,147.8 524.15,123.3 528.38,88.08 532.6,65 536.83,80.28 541.06,109.28 545.29,142 549.51,160 553.74,158.8 557.97,141.5 562.19,127.5 566.42,125.5 570.65,139.5 574.87,152 579.1,162 583.33,162 587.56,155.38 591.78,149.88" fill="none" stroke="#ff9494" stroke-width="2.6" stroke-linejoin="round"/>
<polyline points="391,182.3 456.52,182.3 460.75,182.3 464.97,182.1 469.2,181 473.43,174 477.65,156.5 481.88,117.5 486.11,80.34 490.33,60.06 494.56,83.56 498.79,116.6 503.02,144.8 507.24,163.5 511.47,173.3 515.7,169.5 519.92,147.4 524.15,121.9 528.38,85.04 532.6,61 536.83,77.64 541.06,108.64 545.29,142 549.51,160 553.74,158.8 557.97,141.5 562.19,127.5 566.42,125.5 570.65,139.5 574.87,152 579.1,162 583.33,162 587.56,154.94 591.78,148.44" fill="none" stroke="#ff6a6a" stroke-width="2.6" stroke-linejoin="round"/>
<polyline points="391,182.3 456.52,182.3 460.75,182.3 464.97,182.1 469.2,181 473.43,174 477.65,156.5 481.88,117.5 486.11,77.5 490.33,54.5 494.56,79 498.79,114 503.02,144 507.24,163.5 511.47,173.3 515.7,169.5 519.92,147 524.15,120.5 528.38,82 532.6,57 536.83,75 541.06,108 545.29,142 549.51,160 553.74,158.8 557.97,141.5 562.19,127.5 566.42,125.5 570.65,139.5 574.87,152 579.1,162 583.33,162 587.56,154.5 591.78,147" fill="none" stroke="#d50000" stroke-width="3" stroke-linejoin="round"/>
</g>
<line x1="488" y1="184.2" x2="488" y2="160" stroke="#111" stroke-width="1.7"/>
<path d="M488,155 L483.6,162.2 L492.4,162.2 Z" fill="#111"/>
<line x1="535" y1="184" x2="535" y2="160.4" stroke="#111" stroke-width="1.7"/>
<path d="M535,155.4 L530.6,162.6 L539.4,162.6 Z" fill="#111"/>
<line x1="565.4" y1="184.2" x2="565.4" y2="160.2" stroke="#111" stroke-width="1.7"/>
<path d="M565.4,155.2 L561,162.4 L569.8,162.4 Z" fill="#111"/>
<path d="M482.3,47 H488.4 M490.2,47 H496.4" stroke="#111" stroke-width="1.8"/>
<path d="M505.8,46.9 L498,42.6 L498,51.2 Z" fill="#111"/>
<rect x="391" y="5.85" width="198.4" height="184.75" fill="none" stroke="#000" stroke-width="1.6"/>
<text x="391" y="209" font-size="16.5" text-anchor="middle" fill="#000" textLength="9.73" lengthAdjust="spacingAndGlyphs">0</text>
<text x="433.27" y="209" font-size="16.5" text-anchor="middle" fill="#000" textLength="9.73" lengthAdjust="spacingAndGlyphs">1</text>
<text x="475.54" y="209" font-size="16.5" text-anchor="middle" fill="#000" textLength="9.73" lengthAdjust="spacingAndGlyphs">2</text>
<text x="517.81" y="209" font-size="16.5" text-anchor="middle" fill="#000" textLength="9.73" lengthAdjust="spacingAndGlyphs">3</text>
<text x="560.08" y="209" font-size="16.5" text-anchor="middle" fill="#000" textLength="9.73" lengthAdjust="spacingAndGlyphs">4</text>
<text x="384.6" y="188.6" font-size="16.5" text-anchor="end" fill="#000" textLength="9.73" lengthAdjust="spacingAndGlyphs">0</text>
<text x="384.6" y="140.73" font-size="16.5" text-anchor="end" fill="#000" textLength="9.73" lengthAdjust="spacingAndGlyphs">1</text>
<text x="384.6" y="92.86" font-size="16.5" text-anchor="end" fill="#000" textLength="9.73" lengthAdjust="spacingAndGlyphs">2</text>
<text x="384.6" y="44.99" font-size="16.5" text-anchor="end" fill="#000" textLength="9.73" lengthAdjust="spacingAndGlyphs">3</text>
<text x="490.5" y="231.6" font-size="16.5" text-anchor="middle" fill="#000" textLength="34.22" lengthAdjust="spacingAndGlyphs">r [Å]</text>
<text transform="translate(364.5,98.2) rotate(-90)" x="0" y="0" font-size="16.5" text-anchor="middle" textLength="118.92" lengthAdjust="spacingAndGlyphs">Si-Si PDF [a.u.]</text>
<text x="400" y="23.1" font-size="16.5" text-anchor="start" fill="#000" textLength="21.65" lengthAdjust="spacingAndGlyphs">(b)</text>
<rect x="601.6" y="5.4" width="10.1" height="185.2" fill="url(#seis)" stroke="#000" stroke-width="1.5"/>
<line x1="611.8" y1="160" x2="616" y2="160" stroke="#000" stroke-width="1.3"/>
<text x="622.6" y="166.3" font-size="16.5" text-anchor="start" fill="#000" textLength="38.94" lengthAdjust="spacingAndGlyphs">3842</text>
<line x1="611.8" y1="97.9" x2="616" y2="97.9" stroke="#000" stroke-width="1.3"/>
<text x="622.6" y="104.2" font-size="16.5" text-anchor="start" fill="#000" textLength="38.94" lengthAdjust="spacingAndGlyphs">3844</text>
<line x1="611.8" y1="36.4" x2="616" y2="36.4" stroke="#000" stroke-width="1.3"/>
<text x="622.6" y="42.7" font-size="16.5" text-anchor="start" fill="#000" textLength="38.94" lengthAdjust="spacingAndGlyphs">3846</text>
<text transform="translate(681.1,98.4) rotate(-90)" x="0" y="0" font-size="16.5" text-anchor="middle" textLength="61.34" lengthAdjust="spacingAndGlyphs">Δμ [eV]</text>
<line x1="391" y1="431.1" x2="391" y2="425.5" stroke="#000" stroke-width="1.3"/>
<line x1="440.66" y1="431.1" x2="440.66" y2="425.5" stroke="#000" stroke-width="1.3"/>
<line x1="490.32" y1="431.1" x2="490.32" y2="425.5" stroke="#000" stroke-width="1.3"/>
<line x1="539.98" y1="431.1" x2="539.98" y2="425.5" stroke="#000" stroke-width="1.3"/>
<line x1="589.64" y1="431.1" x2="589.64" y2="425.5" stroke="#000" stroke-width="1.3"/>
<line x1="639.3" y1="431.1" x2="639.3" y2="425.5" stroke="#000" stroke-width="1.3"/>
<line x1="391" y1="422.9" x2="396.6" y2="422.9" stroke="#000" stroke-width="1.3"/>
<line x1="391" y1="377.43" x2="396.6" y2="377.43" stroke="#000" stroke-width="1.3"/>
<line x1="391" y1="331.96" x2="396.6" y2="331.96" stroke="#000" stroke-width="1.3"/>
<line x1="391" y1="286.49" x2="396.6" y2="286.49" stroke="#000" stroke-width="1.3"/>
<g clip-path="url(#cc)">
<line x1="391" y1="336.05" x2="639.3" y2="263.75" stroke="#ff0000" stroke-width="2.6" stroke-dasharray="2.6 3.8"/>
<rect x="385.2" y="330.25" width="11.6" height="11.6" fill="#ff0000"/>
<rect x="633.5" y="257.95" width="11.6" height="11.6" fill="#ff0000"/>
<line x1="639.3" y1="254.56" x2="639.3" y2="272.95" stroke="#ff0000" stroke-width="1.4"/>
<polyline points="391.1,341 392.38,340.9 394.22,340.76 396.3,340.63 398.3,340.6 400.17,340.66 402.06,340.79 404,340.99 406,341.3 408.08,341.68 410.22,342.13 412.41,342.72 414.6,343.5 416.81,344.5 419.04,345.68 421.28,347.02 423.5,348.5 425.74,350.18 427.99,352.05 430.2,353.99 432.3,355.9 434.28,357.75 436.18,359.6 437.98,361.45 439.7,363.3 441.33,365.17 442.87,367.06 444.32,368.91 445.7,370.7 446.95,372.34 448.1,373.89 449.22,375.46 450.4,377.2 451.71,379.23 453.08,381.46 454.41,383.66 455.6,385.6 456.57,387.18 457.41,388.53 458.19,389.79 459,391.1 459.88,392.48 460.77,393.86 461.66,395.23 462.5,396.6 463.29,397.95 464.05,399.29 464.78,400.64 465.5,402 466.2,403.39 466.87,404.8 467.53,406.21 468.2,407.6 468.88,408.96 469.55,410.31 470.22,411.65 470.9,413 471.58,414.38 472.26,415.77 472.93,417.13 473.6,418.4 474.32,419.65 475.07,420.89 475.74,421.95 476.2,422.7" fill="none" stroke="#000" stroke-width="2.6" stroke-dasharray="2.6 3.8"/>
<line x1="445.5" y1="377.3" x2="455.6" y2="377.3" stroke="#000" stroke-width="2.3"/>
<path d="M447.99,374.83 L453.19,380.03 M447.99,380.03 L453.19,374.83" stroke="#000" stroke-width="2.6"/>
<line x1="468" y1="422.6" x2="476.9" y2="422.6" stroke="#000" stroke-width="2.3"/>
<line x1="391.1" y1="341.6" x2="393.5" y2="341.6" stroke="#000" stroke-width="3"/>
<polyline points="480.39,422.9 490.32,377.43 510.18,331.96" fill="none" stroke="#0000ff" stroke-width="2.6" stroke-dasharray="2.6 3.8"/>
<polyline points="510.18,331.96 544.95,377.43 574.74,422.9" fill="none" stroke="#0000ff" stroke-width="2.6" stroke-dasharray="2.6 3.8"/>
<circle cx="480.39" cy="422.9" r="5.5" fill="#0000ff"/>
<circle cx="490.32" cy="377.43" r="5.5" fill="#0000ff"/>
<circle cx="544.95" cy="377.43" r="5.5" fill="#0000ff"/>
<circle cx="574.74" cy="422.9" r="5.5" fill="#0000ff"/>
<path d="M505.18,326.96 L515.18,336.96 M505.18,336.96 L515.18,326.96" stroke="#0000ff" stroke-width="2.2"/>
<path d="M510.15,317.87 L520.15,327.87 M510.15,327.87 L520.15,317.87" stroke="#0000ff" stroke-width="2.2"/>
<path d="M515.12,308.77 L525.12,318.77 M515.12,318.77 L525.12,308.77" stroke="#0000ff" stroke-width="2.2"/>
</g>
<rect x="391" y="246.4" width="248.3" height="184.7" fill="none" stroke="#000" stroke-width="1.6"/>
<text x="391" y="449" font-size="16.5" text-anchor="middle" fill="#000" textLength="9.73" lengthAdjust="spacingAndGlyphs">0</text>
<text x="440.66" y="449" font-size="16.5" text-anchor="middle" fill="#000" textLength="19.47" lengthAdjust="spacingAndGlyphs">10</text>
<text x="490.32" y="449" font-size="16.5" text-anchor="middle" fill="#000" textLength="19.47" lengthAdjust="spacingAndGlyphs">20</text>
<text x="539.98" y="449" font-size="16.5" text-anchor="middle" fill="#000" textLength="19.47" lengthAdjust="spacingAndGlyphs">30</text>
<text x="589.64" y="449" font-size="16.5" text-anchor="middle" fill="#000" textLength="19.47" lengthAdjust="spacingAndGlyphs">40</text>
<text x="639.3" y="449" font-size="16.5" text-anchor="middle" fill="#000" textLength="19.47" lengthAdjust="spacingAndGlyphs">50</text>
<text x="384.5" y="429.2" font-size="16.5" text-anchor="end" fill="#000" textLength="38.94" lengthAdjust="spacingAndGlyphs">4000</text>
<text x="384.5" y="383.73" font-size="16.5" text-anchor="end" fill="#000" textLength="38.94" lengthAdjust="spacingAndGlyphs">5000</text>
<text x="384.5" y="338.26" font-size="16.5" text-anchor="end" fill="#000" textLength="38.94" lengthAdjust="spacingAndGlyphs">6000</text>
<text x="384.5" y="292.79" font-size="16.5" text-anchor="end" fill="#000" textLength="38.94" lengthAdjust="spacingAndGlyphs">7000</text>
<text x="515" y="471" font-size="16.5" text-anchor="middle" fill="#000" textLength="180.47" lengthAdjust="spacingAndGlyphs">Si concentration (at%)</text>
<text transform="translate(335.4,339) rotate(-90)" x="0" y="0" font-size="16.5" text-anchor="middle" textLength="36.18" lengthAdjust="spacingAndGlyphs">T [K]</text>
<text x="405.3" y="263.1" font-size="16.5" text-anchor="start" fill="#000" textLength="19.95" lengthAdjust="spacingAndGlyphs">(c)</text>
<text x="493.2" y="286.9" font-size="16.5" text-anchor="start" fill="#000" textLength="44.61" lengthAdjust="spacingAndGlyphs">liquid</text>
<text x="579.6" y="324.6" font-size="16.5" text-anchor="start" fill="#000" textLength="19.83" lengthAdjust="spacingAndGlyphs">B2</text>
<text x="451.8" y="343.2" font-size="16.5" text-anchor="start" fill="#000" textLength="26.54" lengthAdjust="spacingAndGlyphs">bcc</text>
<text x="428.6" y="390" font-size="14.6" text-anchor="middle" fill="#000" textLength="24.45" lengthAdjust="spacingAndGlyphs">bcc</text>
<text x="428.3" y="405.7" font-size="14.6" text-anchor="middle" fill="#000" textLength="68.94" lengthAdjust="spacingAndGlyphs">instability</text>
</svg>
</body></html>
